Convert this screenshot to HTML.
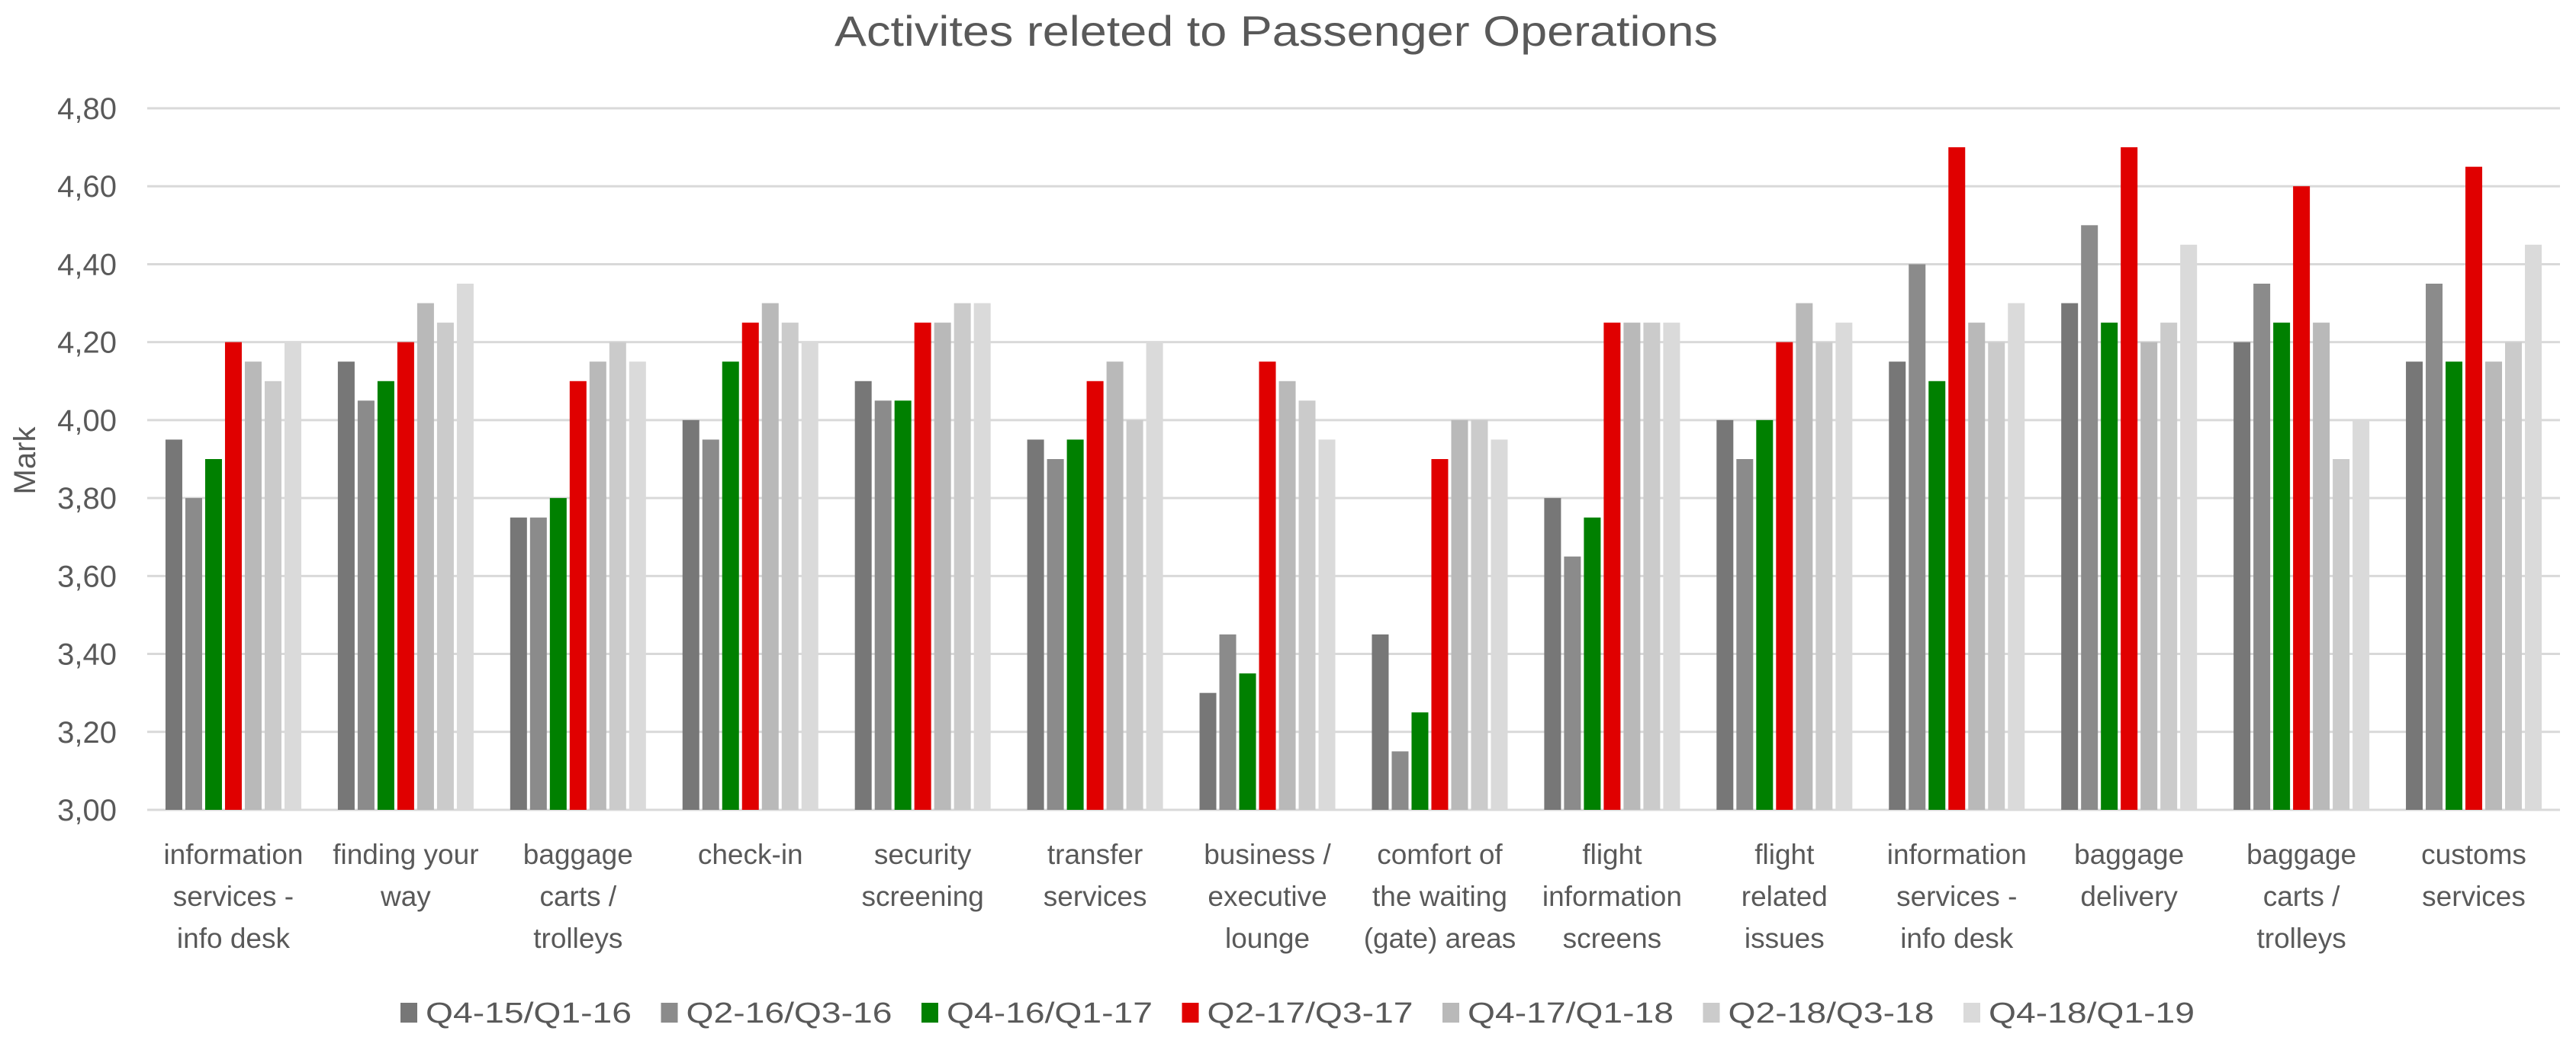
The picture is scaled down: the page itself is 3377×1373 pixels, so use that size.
<!DOCTYPE html>
<html><head><meta charset="utf-8">
<style>
html,body{margin:0;padding:0;background:#fff;}
svg{display:block;}
text{font-family:"Liberation Sans",sans-serif;fill:#595959;}
</style></head>
<body>
<svg id="chart" width="3377" height="1373" viewBox="0 0 3377 1373" xmlns="http://www.w3.org/2000/svg">
<text x="1673" y="60" font-size="56" text-anchor="middle" textLength="1158" lengthAdjust="spacingAndGlyphs">Activites releted to Passenger Operations</text>
<text transform="translate(46,604) rotate(-90)" font-size="40" text-anchor="middle">Mark</text>
<g id="grid"></g><g id="bars"></g><g id="xlabels"></g><g id="legend"></g>
</svg>
<script>
const categories = [["information","services -","info desk"],["finding your","way"],["baggage","carts /","trolleys"],["check-in"],["security","screening"],["transfer","services"],["business /","executive","lounge"],["comfort of","the waiting","(gate) areas"],["flight","information","screens"],["flight","related","issues"],["information","services -","info desk"],["baggage","delivery"],["baggage","carts /","trolleys"],["customs","services"]];
const seriesNames = ["Q4-15/Q1-16","Q2-16/Q3-16","Q4-16/Q1-17","Q2-17/Q3-17","Q4-17/Q1-18","Q2-18/Q3-18","Q4-18/Q1-19"];
const s1 = [3.95,4.15,3.75,4.00,4.10,3.95,3.30,3.45,3.80,4.00,4.15,4.30,4.20,4.15];
const s2 = [3.80,4.05,3.75,3.95,4.05,3.90,3.45,3.15,3.65,3.90,4.40,4.50,4.35,4.35];
const s3 = [3.90,4.10,3.80,4.15,4.05,3.95,3.35,3.25,3.75,4.00,4.10,4.25,4.25,4.15];
const s4 = [4.20,4.20,4.10,4.25,4.25,4.10,4.15,3.90,4.25,4.20,4.70,4.70,4.60,4.65];
const s5 = [4.15,4.30,4.15,4.30,4.25,4.15,4.10,4.00,4.25,4.30,4.25,4.20,4.25,4.15];
const s6 = [4.10,4.25,4.20,4.25,4.30,4.00,4.05,4.00,4.25,4.20,4.20,4.25,3.90,4.20];
const s7 = [4.20,4.35,4.15,4.20,4.30,4.20,3.95,3.95,4.25,4.25,4.30,4.45,4.00,4.45];
const yTicks = [3.0,3.2,3.4,3.6,3.8,4.0,4.2,4.4,4.6,4.8];
const yTickLabels = ["3,00","3,20","3,40","3,60","3,80","4,00","4,20","4,40","4,60","4,80"];

const series=[s1,s2,s3,s4,s5,s6,s7];
const colors=["#777777","#8b8b8b","#008000","#e00000","#b9b9b9","#cbcbcb","#dadada"];
const NS="http://www.w3.org/2000/svg";
const X0=193,X1=3356,Y0=1062,Y1=142,YMIN=3.0,YMAX=4.8;
const cw=(X1-X0)/categories.length;
function y(v){return Y0-(v-YMIN)/(YMAX-YMIN)*(Y0-Y1);}
function xc(i){return X0+cw*(i+0.5);}
const period=26,bw=22;
function xb(i,j){return xc(i)-(7*period-(period-bw))/2+j*period;}
function mk(tag,attrs,parent){const e=document.createElementNS(NS,tag);for(const k in attrs)e.setAttribute(k,attrs[k]);parent.appendChild(e);return e;}
const grid=document.getElementById('grid');
yTicks.forEach((t,i)=>{
  const l=mk('line',{x1:X0,x2:X1,y1:y(t),y2:y(t),stroke:'#d9d9d9','stroke-width':3},grid);
  
  
  const tx=mk('text',{x:153,y:y(t)+14,'font-size':40,'text-anchor':'end'},grid);
  tx.textContent=yTickLabels[i];
  
  
});
const bars=document.getElementById('bars');
series.forEach((s,j)=>{
  s.forEach((v,i)=>{
    const r=mk('rect',{x:xb(i,j),y:y(v),width:bw,height:y(YMIN)-y(v),fill:colors[j]},bars);
    
    
  });
});
const xl=document.getElementById('xlabels');
categories.forEach((lines,i)=>{
  const t=mk('text',{'font-size':37,'text-anchor':'middle'},xl);
  
  
  lines.forEach((ln,k)=>{const ts=mk('tspan',{x:xc(i),y:1133+k*55},t);ts.textContent=ln;});
});
const lg=document.getElementById('legend');
seriesNames.forEach((n,j)=>{
  const lx=525+j*341.5;
  const g=mk('g',{},lg);
  
  
  mk('rect',{x:lx,y:1315,width:22,height:26,fill:colors[j]},g);
  const t=mk('text',{x:lx+33,y:1341,'font-size':38,textLength:270,lengthAdjust:'spacingAndGlyphs'},g);
  t.textContent=n;
});
</script>
</body></html>
